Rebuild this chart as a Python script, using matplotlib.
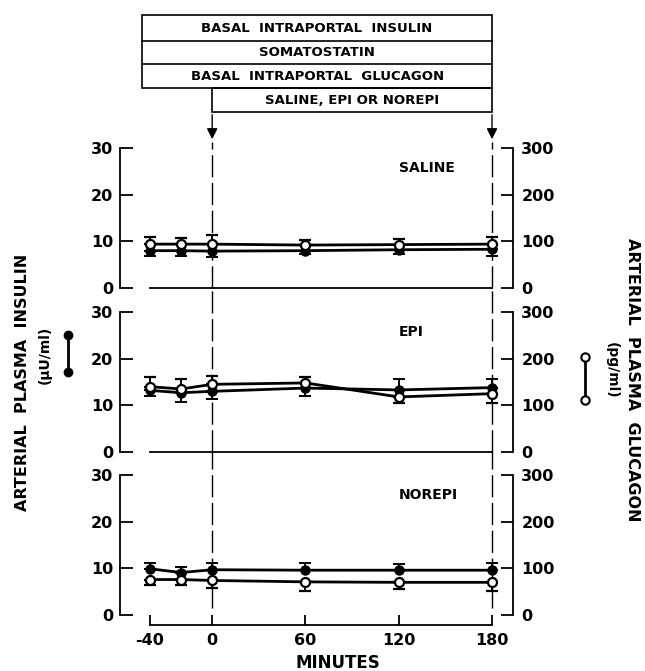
import matplotlib
matplotlib.use("Agg")
import matplotlib.pyplot as plt
from matplotlib.lines import Line2D
from matplotlib.patches import Rectangle
import numpy as np

# minutes
minutes = [-40, -20, 0, 60, 120, 180]
panel_names = ["SALINE", "EPI", "NOREPI"]

# arterial plasma insulin (uU/ml), filled circles
insulin = {
    "SALINE": [8.0, 8.0, 7.9, 8.0, 8.2, 8.3],
    "EPI": [13.2, 12.7, 13.0, 13.7, 13.3, 13.8],
    "NOREPI": [9.9, 9.1, 9.7, 9.6, 9.6, 9.6],
}
insulin_sem = {
    "SALINE": [1.1, 1.1, 1.3, 0.7, 0.9, 1.4],
    "EPI": [1.1, 2.0, 1.7, 1.7, 2.4, 1.9],
    "NOREPI": [1.2, 1.2, 1.4, 1.6, 1.3, 1.5],
}
# arterial plasma glucagon (pg/ml), open circles
glucagon = {
    "SALINE": [94, 94, 94, 92, 93, 94],
    "EPI": [140, 135, 145, 148, 118, 125],
    "NOREPI": [76, 76, 74, 71, 70, 70],
}
glucagon_sem = {
    "SALINE": [15, 13, 19, 11, 12, 15],
    "EPI": [21, 22, 17, 13, 14, 19],
    "NOREPI": [12, 12, 16, 19, 15, 18],
}

box_rows = ["BASAL  INTRAPORTAL  INSULIN", "SOMATOSTATIN",
            "BASAL  INTRAPORTAL  GLUCAGON", "SALINE, EPI OR NOREPI"]

plt.rcParams['font.family'] = 'DejaVu Sans'
plt.rcParams['font.weight'] = 'bold'
plt.rcParams['axes.unicode_minus'] = False

W, H = 645, 671
fig = plt.figure(figsize=(W / 100, H / 100), dpi=100)

xlim = (-59.3, 193.5)
ax_left = 120 / W
ax_w = (513 - 120) / W
tops = [148, 312, 475]
ph = 140

def fy(px):
    return 1 - px / H

for i, name in enumerate(panel_names):
    ax = fig.add_axes([ax_left, fy(tops[i] + ph), ax_w, ph / H])
    ax2 = ax.twinx()
    ins = np.array(insulin[name])
    glu = np.array(glucagon[name])
    ins_up = ins >= glu / 10.0
    e_ins = np.array(insulin_sem[name])
    e_glu = np.array(glucagon_sem[name])
    ins_err = [np.where(ins_up, 0, e_ins), np.where(ins_up, e_ins, 0)]
    glu_err = [np.where(ins_up, e_glu, 0), np.where(ins_up, 0, e_glu)]

    ax.errorbar(minutes, ins, yerr=ins_err, color='k', lw=2, marker='o',
                ms=6.5, mfc='k', mec='k', elinewidth=1.4, capsize=4.5,
                capthick=1.4, zorder=3, clip_on=False)
    ax2.errorbar(minutes, glu, yerr=glu_err, color='k', lw=2, marker='o',
                 ms=6.5, mfc='white', mec='k', mew=1.6, elinewidth=1.4,
                 capsize=4.5, capthick=1.4, zorder=3, clip_on=False)

    for a, top in ((ax, 30), (ax2, 300)):
        a.set_xlim(*xlim)
        a.set_ylim(0, top)
        a.set_yticks(np.linspace(0, top, 4))
        a.spines['top'].set_visible(False)
        a.patch.set_visible(False)
        for s in a.spines.values():
            s.set_linewidth(1.3)
    ax.spines['right'].set_visible(False)
    ax2.spines['left'].set_visible(False)
    ax2.spines['bottom'].set_visible(False)
    ax.spines['left'].set_bounds(0, 30)
    ax2.spines['right'].set_bounds(0, 300)
    ax.spines['bottom'].set_bounds(-40, 180)
    ax.tick_params(axis='y', direction='in', length=9, width=1.3, pad=5,
                   labelsize=11.5)
    ax2.tick_params(axis='y', direction='in', length=9, width=1.3, pad=6,
                    labelsize=11.5)
    ax.set_xticks(minutes[:1] + minutes[2:])
    if i < 2:
        ax.tick_params(axis='x', length=0, labelbottom=False)
    else:
        ax.spines['bottom'].set_position(('outward', 7))
        ax.tick_params(axis='x', direction='in', length=7, width=1.3, pad=6,
                       labelsize=11.5)
    ax.text(120, 25.7, name, fontsize=10, va='center', ha='left')

    ymin = 0.05 if i == 2 else 0.0
    ymax = 1 + 6 / ph if i == 0 else 1 + 24 / ph
    for xv in (0, 180):
        ax.axvline(xv, ymin=ymin, ymax=ymax, color='k', lw=1,
                   ls=(0, (16, 4)), clip_on=False, zorder=1)

# protocol boxes on top
bx = fig.add_axes([ax_left, fy(142), ax_w, (142 - 14) / H])
bx.set_xlim(*xlim)
bx.set_ylim(142, 14)
bx.axis('off')
row_lines = [15, 41, 64, 88, 112]
bx.add_patch(Rectangle((-45, row_lines[0]), 225, row_lines[3] - row_lines[0],
                       fill=False, lw=1.2, ec='k'))
for yl in row_lines[1:3]:
    bx.plot([-45, 180], [yl, yl], color='k', lw=1.2)
bx.add_patch(Rectangle((0, row_lines[3]), 180, row_lines[4] - row_lines[3],
                       fill=False, lw=1.2, ec='k'))
for j, label in enumerate(box_rows):
    xc = 67.5 if j < 3 else 90
    yc = (row_lines[j] + row_lines[j + 1]) / 2
    bx.text(xc, yc, label, ha='center', va='center', fontsize=9.5)
for xv in (0, 180):
    bx.annotate('', xy=(xv, 142), xytext=(xv, row_lines[4]),
                arrowprops=dict(arrowstyle='-|>', color='k', lw=1,
                                mutation_scale=16), annotation_clip=False)

# axis titles
fig.text(338 / W, fy(663), "MINUTES", ha='center', va='center', fontsize=12)
fig.text(23 / W, fy(382), "ARTERIAL  PLASMA  INSULIN", rotation=90,
         ha='center', va='center', fontsize=11.5)
fig.text(45 / W, fy(355), "(\u00b5U/ml)", rotation=90,
         ha='center', va='center', fontsize=10)
fig.text(633 / W, fy(380), "ARTERIAL  PLASMA  GLUCAGON", rotation=270,
         ha='center', va='center', fontsize=11.5)
fig.text(612 / W, fy(370), "(pg/ml)", rotation=270,
         ha='center', va='center', fontsize=10)

# series keys
fig.add_artist(Line2D([68 / W, 68 / W], [fy(335), fy(372)], color='k', lw=2,
                      marker='o', ms=6, mfc='k', mec='k'))
fig.add_artist(Line2D([585 / W, 585 / W], [fy(357), fy(400)], color='k', lw=2,
                      marker='o', ms=6, mfc='white', mec='k', mew=1.5))

fig.savefig("out.png", dpi=100, facecolor='white')
